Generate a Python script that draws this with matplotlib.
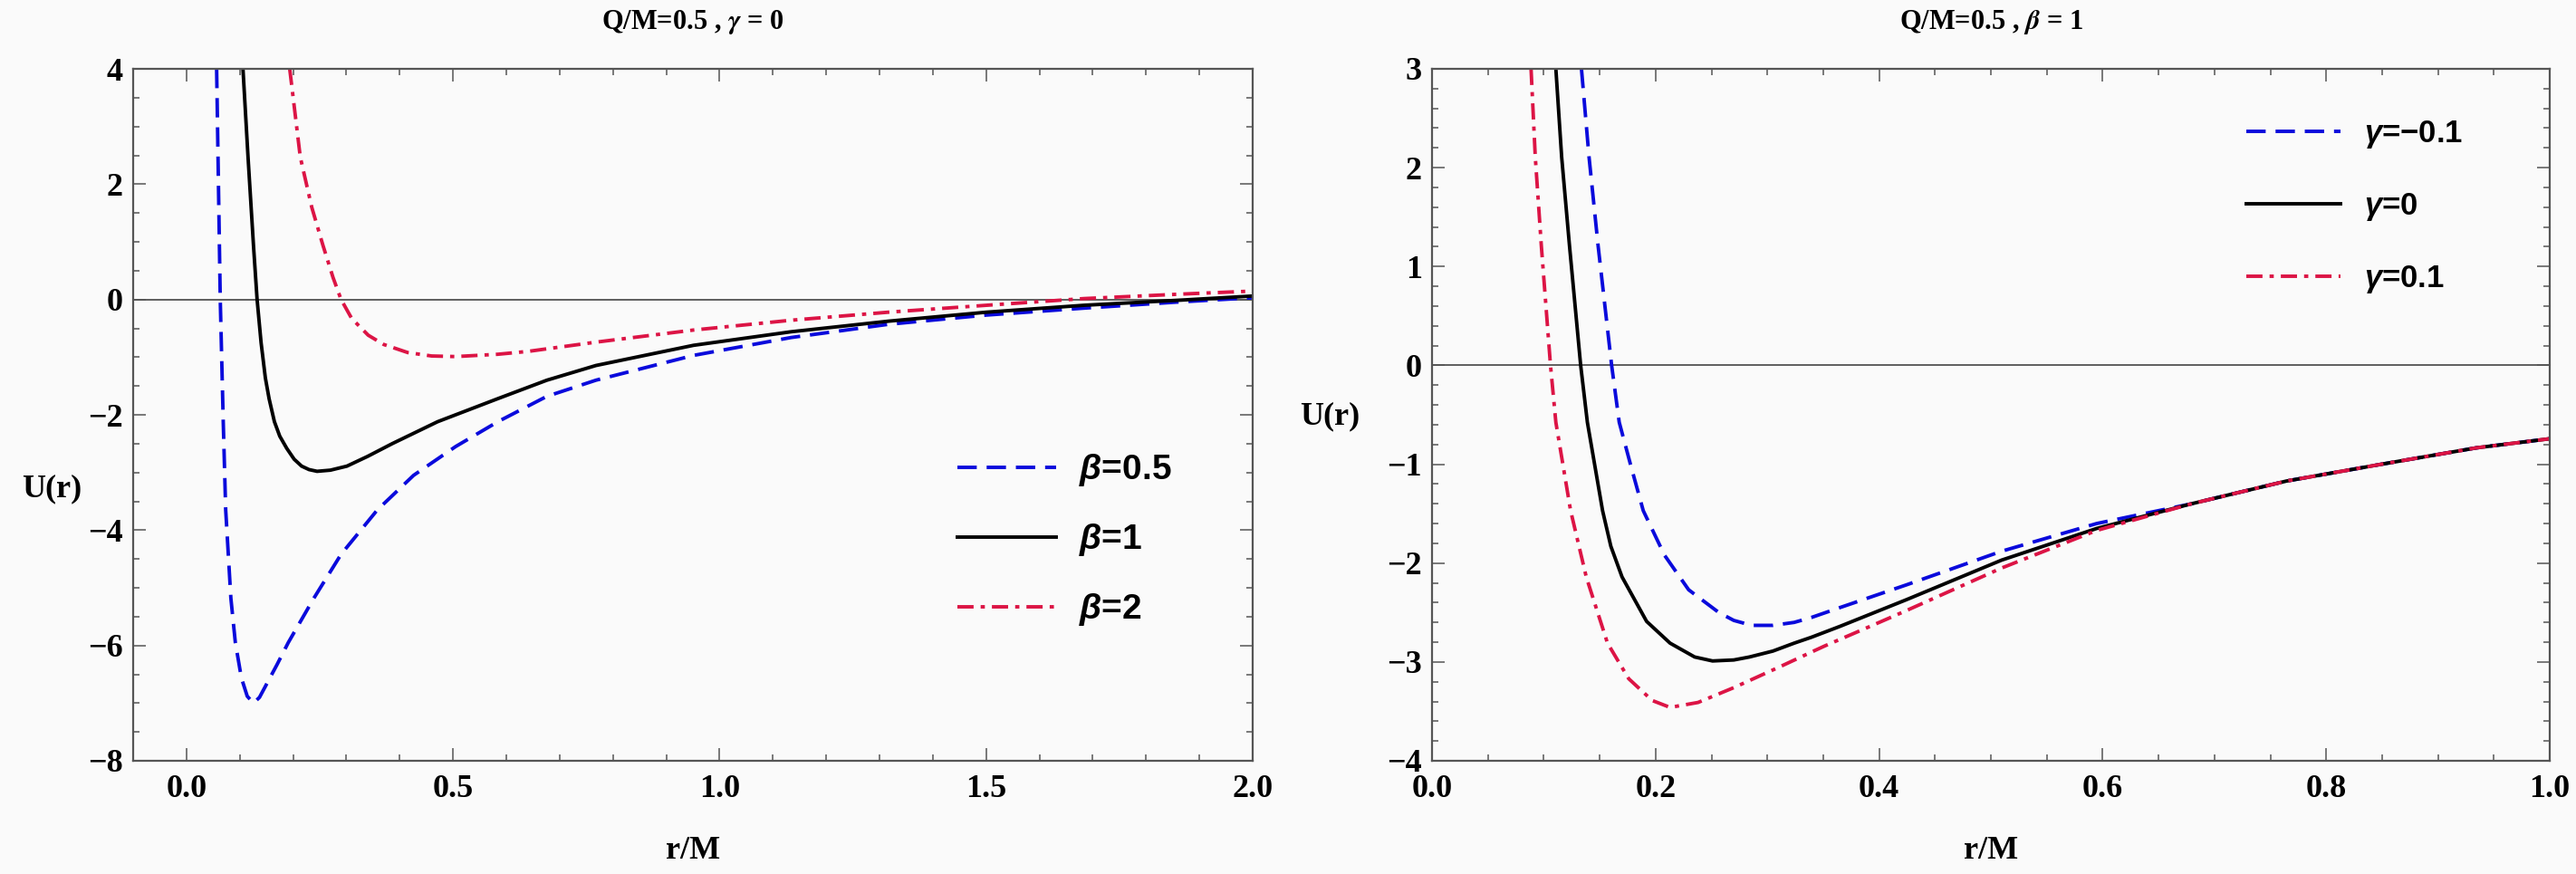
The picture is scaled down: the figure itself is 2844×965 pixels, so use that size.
import matplotlib.pyplot as plt
from matplotlib.ticker import MultipleLocator, FormatStrFormatter

# ---- data ----
# left panel: Q/M = 0.5, gamma = 0, three values of beta
r_b05 = [0.0566, 0.0634, 0.069, 0.0736, 0.0833, 0.0917, 0.103, 0.114, 0.1257, 0.137,
         0.148, 0.17, 0.191, 0.239, 0.29, 0.358, 0.426, 0.505, 0.584, 0.676, 0.768,
         0.951, 1.134, 1.317, 1.501, 1.684, 1.867, 2.0]
u_b05 = [4.0, 0.0, -2.12, -3.65, -5.18, -5.95, -6.56, -6.88, -7.0, -6.9,
         -6.71, -6.33, -5.95, -5.18, -4.42, -3.65, -3.05, -2.55, -2.12, -1.68, -1.40,
         -0.97, -0.66, -0.43, -0.27, -0.15, -0.04, 0.03]

r_b1 = [0.106, 0.1155, 0.1257, 0.1325, 0.14, 0.148, 0.155, 0.165, 0.175, 0.188, 0.202,
        0.216, 0.23, 0.245, 0.27, 0.301, 0.34, 0.386, 0.471, 0.584, 0.676, 0.768,
        0.951, 1.134, 1.317, 1.501, 1.684, 1.867, 2.0]
u_b1 = [4.0, 2.47, 0.94, 0.0, -0.75, -1.36, -1.72, -2.12, -2.37, -2.58, -2.77,
        -2.89, -2.95, -2.98, -2.96, -2.89, -2.72, -2.50, -2.12, -1.72, -1.40, -1.145,
        -0.795, -0.56, -0.376, -0.22, -0.10, -0.01, 0.06]

r_b2 = [0.1937, 0.2135, 0.235, 0.256, 0.275, 0.29, 0.31, 0.341, 0.37, 0.415, 0.46,
        0.505, 0.584, 0.641, 0.768, 0.951, 1.134, 1.317, 1.501, 1.684, 1.867, 2.0]
u_b2 = [4.0, 2.47, 1.6, 0.94, 0.38, 0.0, -0.33, -0.62, -0.78, -0.92, -0.98,
        -0.99, -0.95, -0.90, -0.74, -0.53, -0.36, -0.22, -0.10, 0.016, 0.094, 0.146]

# right panel: Q/M = 0.5, beta = 1, three values of gamma
r_gm = [0.1337, 0.1405, 0.1486, 0.1607, 0.1675, 0.178, 0.189, 0.208, 0.2296, 0.2566,
        0.27, 0.286, 0.305, 0.324, 0.3395, 0.365, 0.4245, 0.5096, 0.5946, 0.6795,
        0.7645, 0.8494, 0.9344, 1.0]
u_gm = [3.0, 2.106, 1.21, 0.0, -0.576, -1.02, -1.47, -1.92, -2.27, -2.50,
        -2.58, -2.63, -2.63, -2.60, -2.55, -2.45, -2.22, -1.88, -1.60, -1.40,
        -1.17, -1.00, -0.834, -0.742]

r_g0 = [0.1108, 0.116, 0.123, 0.133, 0.139, 0.1526, 0.16, 0.170, 0.192, 0.213, 0.235,
        0.251, 0.27, 0.284, 0.305, 0.324, 0.3395, 0.365, 0.4245, 0.5096, 0.5946,
        0.6795, 0.7645, 0.8494, 0.9344, 1.0]
u_g0 = [3.0, 2.106, 1.21, 0.0, -0.576, -1.47, -1.83, -2.14, -2.59, -2.81, -2.95,
        -2.99, -2.98, -2.95, -2.89, -2.81, -2.75, -2.64, -2.37, -1.97, -1.65,
        -1.40, -1.17, -1.00, -0.834, -0.742]

r_gp = [0.0886, 0.0924, 0.0978, 0.106, 0.1108, 0.124, 0.138, 0.157, 0.176, 0.197,
        0.213, 0.238, 0.270, 0.311, 0.3395, 0.351, 0.392, 0.4245, 0.5096, 0.5946,
        0.6795, 0.7645, 0.8494, 0.9344, 1.0]
u_gp = [3.0, 2.106, 1.21, 0.0, -0.576, -1.47, -2.14, -2.81, -3.17, -3.39,
        -3.46, -3.41, -3.26, -3.05, -2.90, -2.84, -2.64, -2.48, -2.05, -1.67,
        -1.40, -1.17, -1.00, -0.834, -0.742]

left_labels = [r"$\beta$=0.5", r"$\beta$=1", r"$\beta$=2"]
right_labels = [r"$\gamma$=$-$0.1", r"$\gamma$=0", r"$\gamma$=0.1"]

# ---- style ----
plt.rcParams["font.family"] = ["Liberation Serif", "DejaVu Serif"]
plt.rcParams["font.weight"] = "bold"
plt.rcParams["mathtext.fontset"] = "custom"
plt.rcParams["mathtext.it"] = "Liberation Sans:italic:bold"
plt.rcParams["mathtext.rm"] = "Liberation Sans:bold"
plt.rcParams["mathtext.bf"] = "Liberation Sans:bold"

BLUE = "#0a0adc"
RED = "#dc1445"
FRAME = "#555555"
BG = "#fafafa"

W, H = 2844, 965
fig = plt.figure(figsize=(W / 100, H / 100), dpi=100, facecolor=BG)
ax1 = fig.add_axes([147 / W, 125 / H, 1236 / W, 764 / H], facecolor=BG)
ax2 = fig.add_axes([1581 / W, 125 / H, 1234 / W, 764 / H], facecolor=BG)

lw = 2.8
dash = (5.5, 2.8)
dashdot = (4.6, 2.0, 1.2, 2.0)


def style_axes(ax):
    for s in ax.spines.values():
        s.set_color(FRAME)
        s.set_linewidth(1.6)
    ax.tick_params(which="both", direction="in", top=True, right=True,
                   color=FRAME, width=1.1, labelsize=26)
    ax.tick_params(which="major", length=10)
    ax.tick_params(which="minor", length=5)
    ax.tick_params(axis="x", pad=11)
    ax.tick_params(axis="y", pad=8)
    ax.axhline(0, color="#444444", lw=1.2, zorder=1)


# left panel
ax1.plot(r_b05, u_b05, color=BLUE, lw=lw, dashes=dash, label=left_labels[0])
ax1.plot(r_b1, u_b1, color="black", lw=lw, label=left_labels[1])
ax1.plot(r_b2, u_b2, color=RED, lw=lw, dashes=dashdot, label=left_labels[2])
ax1.set_xlim(-0.1, 2.0)
ax1.set_ylim(-8, 4)
ax1.xaxis.set_major_locator(MultipleLocator(0.5))
ax1.xaxis.set_minor_locator(MultipleLocator(0.1))
ax1.yaxis.set_major_locator(MultipleLocator(2))
ax1.yaxis.set_minor_locator(MultipleLocator(0.5))
ax1.xaxis.set_major_formatter(FormatStrFormatter("%.1f"))
style_axes(ax1)
leg1 = ax1.legend(loc="center left", bbox_to_anchor=(0.736, 0.319), frameon=False,
                  prop={"family": "Liberation Sans", "weight": "bold", "size": 28},
                  handlelength=2.8, handletextpad=0.65, labelspacing=0.95,
                  borderpad=0, borderaxespad=0)

# right panel
ax2.plot(r_gm, u_gm, color=BLUE, lw=lw, dashes=dash, label=right_labels[0])
ax2.plot(r_g0, u_g0, color="black", lw=lw, label=right_labels[1])
ax2.plot(r_gp, u_gp, color=RED, lw=lw, dashes=dashdot, label=right_labels[2])
ax2.set_xlim(0, 1.0)
ax2.set_ylim(-4, 3)
ax2.xaxis.set_major_locator(MultipleLocator(0.2))
ax2.xaxis.set_minor_locator(MultipleLocator(0.05))
ax2.yaxis.set_major_locator(MultipleLocator(1))
ax2.yaxis.set_minor_locator(MultipleLocator(0.2))
ax2.xaxis.set_major_formatter(FormatStrFormatter("%.1f"))
style_axes(ax2)
leg2 = ax2.legend(loc="center left", bbox_to_anchor=(0.7285, 0.80), frameon=False,
                  prop={"family": "Liberation Sans", "weight": "bold", "size": 25},
                  handlelength=3.0, handletextpad=0.75, labelspacing=1.3,
                  borderpad=0, borderaxespad=0)

# titles and axis labels
fig.text(765 / W, 1 - 25 / H, r"Q/M=0.5 , $\gamma$ = 0", ha="center", va="center",
         fontsize=22, math_fontfamily="stix")
fig.text(2198 / W, 1 - 25 / H, r"Q/M=0.5 , $\beta$ = 1", ha="center", va="center",
         fontsize=22, math_fontfamily="stix")
fig.text(57 / W, 1 - 540 / H, "U(r)", ha="center", va="center", fontsize=26)
fig.text(1468 / W, 1 - 460 / H, "U(r)", ha="center", va="center", fontsize=26)
fig.text(765 / W, 1 - 940 / H, "r/M", ha="center", va="center", fontsize=26)
fig.text(2198 / W, 1 - 940 / H, "r/M", ha="center", va="center", fontsize=26)

fig.savefig("out.png", dpi=100, facecolor=BG)
